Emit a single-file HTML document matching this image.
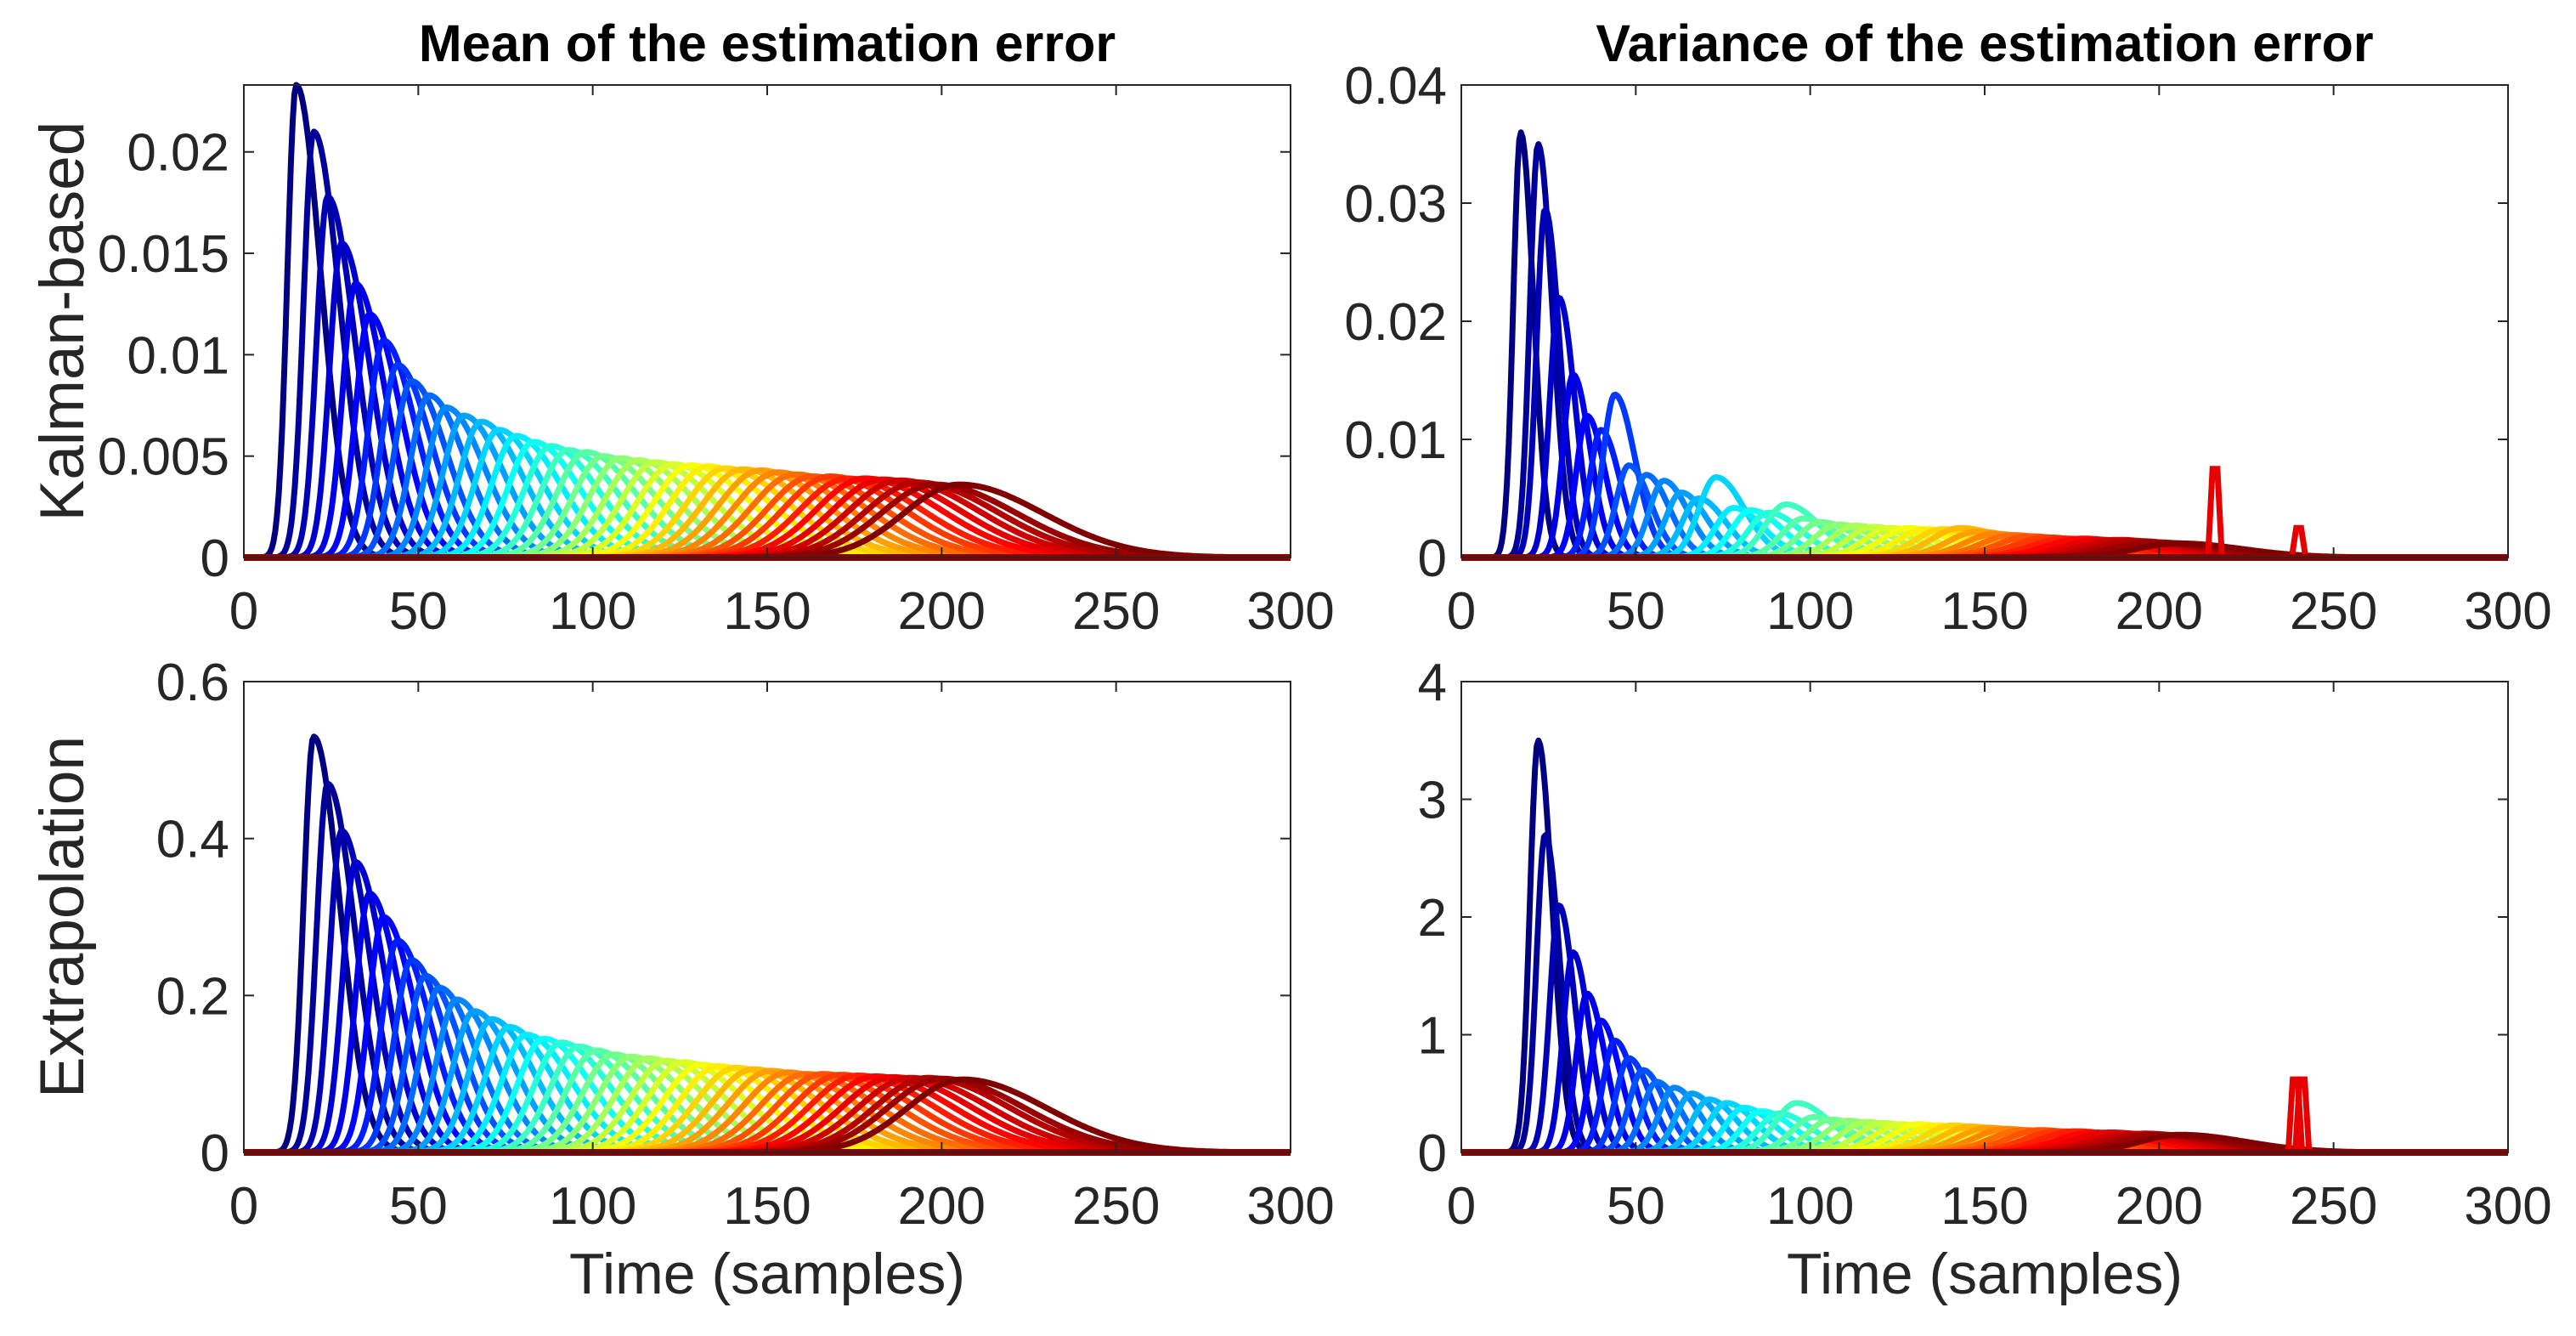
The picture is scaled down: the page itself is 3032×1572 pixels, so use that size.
<!DOCTYPE html>
<html><head><meta charset="utf-8"><style>
html,body{margin:0;padding:0;background:#fff;}
svg{display:block;}
</style></head><body>
<svg id="fig" xmlns="http://www.w3.org/2000/svg" width="3032" height="1572" viewBox="0 0 3032 1572" font-family="'Liberation Sans', sans-serif">
<rect width="3032" height="1572" fill="#fff"/>
</svg>
<script>
// ---- data ----
const xTicks = [0,50,100,150,200,250,300];
const meanKalmanTicks = [0,0.005,0.01,0.015,0.02];
const meanKalmanTickLabels = ["0","0.005","0.01","0.015","0.02"];
const varKalmanTicks = [0,0.01,0.02,0.03,0.04];
const varKalmanTickLabels = ["0","0.01","0.02","0.03","0.04"];
const meanExtrapTicks = [0,0.2,0.4,0.6];
const meanExtrapTickLabels = ["0","0.2","0.4","0.6"];
const varExtrapTicks = [0,1,2,3,4];
const varExtrapTickLabels = ["0","1","2","3","4"];

const peakTimesTop = [15,20,24,28,32,36,40,44,48,53,58,63,68,73,78,83,88,93,98,103,108,113,118,123,128,133,138,143,148,153,158,163,168,173,178,183,188,193,198,205];
const peakTimesBottom = [20,24,28,32,36,40,44,48,52,56,61,66,71,76,81,86,91,96,101,106,111,116,121,126,131,136,141,146,151,156,161,166,171,176,181,186,191,196,200,206];
const meanKalmanPeaks = [0.0233,0.021,0.0178,0.0155,0.0135,0.012,0.0107,0.0095,0.0087,0.008,0.0074,0.007,0.0067,0.0063,0.006,0.0057,0.0055,0.0053,0.0052,0.005,0.0049,0.0048,0.0047,0.0046,0.00455,0.0045,0.0044,0.00435,0.0043,0.0042,0.0041,0.004,0.004,0.0039,0.0039,0.00385,0.0038,0.0037,0.0036,0.0036];
const varKalmanPeaks = [0.036,0.035,0.0295,0.022,0.0155,0.012,0.0108,0.0138,0.0078,0.007,0.0065,0.0055,0.005,0.0068,0.0042,0.004,0.0038,0.0045,0.0033,0.003,0.0028,0.0027,0.0026,0.0025,0.0025,0.0024,0.0024,0.0025,0.0022,0.002,0.0019,0.0018,0.0017,0.0016,0.0016,0.0015,0.0015,0.0014,0.0013,0.0012];
const meanExtrapPeaks = [0.53,0.47,0.41,0.37,0.33,0.30,0.27,0.245,0.225,0.21,0.195,0.18,0.17,0.16,0.15,0.145,0.14,0.135,0.13,0.125,0.122,0.12,0.117,0.115,0.112,0.11,0.108,0.106,0.104,0.102,0.1,0.1,0.099,0.098,0.097,0.096,0.095,0.095,0.094,0.093];
const varExtrapPeaks = [3.5,2.7,2.1,1.7,1.35,1.12,0.95,0.8,0.7,0.6,0.55,0.5,0.45,0.42,0.38,0.35,0.33,0.42,0.3,0.28,0.27,0.26,0.25,0.24,0.24,0.23,0.23,0.22,0.21,0.2,0.19,0.19,0.18,0.18,0.17,0.17,0.16,0.16,0.15,0.15];
const varKalmanSpikeTimes = [216,240];
const varKalmanSpikeValues = [0.0075,0.0025];
const varExtrapSpikeTimes = [239,241];
const varExtrapSpikeValues = [0.62,0.62];

const NS = "http://www.w3.org/2000/svg";
const svg = document.getElementById('fig');
function mk(tag, attrs, parent){ const e=document.createElementNS(NS,tag); for(const k in attrs) e.setAttribute(k,attrs[k]); (parent||svg).appendChild(e); return e; }
function jet(v){
  const c=x=>Math.max(0,Math.min(1,x));
  const r=c(1.5-Math.abs(4*v-3)), g=c(1.5-Math.abs(4*v-2)), b=c(1.5-Math.abs(4*v-1));
  return `rgb(${Math.round(r*255)},${Math.round(g*255)},${Math.round(b*255)})`;
}

function panel(o){
  const {x0,x1,y0,y1,ymax,yTicks,yLabels,peakT,peaks,narrow,spikeT,spikeV,title,ylabel,xlabel,name}=o;
  const g=mk('g',{});
  
  
  const sx=t=>x0+(t/300)*(x1-x0);
  const sy=v=>y1-(v/ymax)*(y1-y0);
  const clip=mk('clipPath',{id:name+'-clip'},g);
  mk('rect',{x:x0,y:y0-6,width:x1-x0,height:y1-y0+12},clip);
  const plot=mk('g',{'clip-path':`url(#${name}-clip)`},g);
  
  
  const N=peakT.length;
  for(let i=0;i<N;i++){
    const p=peakT[i], A=peaks[i];
    const sL = narrow ? 2+0.05*(p-15) : 2.5+0.07*(p-15);
    const sR = narrow ? 3.5+0.08*(p-15) : 7+0.09*(p-15);
    const a=Math.max(0,p-4*sL), b=Math.min(300,p+4*sR);
    let pts=[];
    for(let t=a;t<=b;t+=0.5){
      const s = t<p? sL : sR;
      const v = A*Math.exp(-0.5*((t-p)/s)**2);
      pts.push(sx(t).toFixed(1)+','+sy(v).toFixed(1));
    }
    const pl=mk('polyline',{points:pts.join(' '),fill:'none',stroke:jet(i/(N-1)),'stroke-width':7,'stroke-linejoin':'round'},plot);
    
    
  }
  for(let j=0;j<spikeT.length;j++){
    const t=spikeT[j], v=spikeV[j];
    const pts=[[t-2,0],[t-0.7,v],[t+0.7,v],[t+2,0]].map(q=>sx(q[0]).toFixed(1)+','+sy(q[1]).toFixed(1)).join(' ');
    const sp=mk('polyline',{points:pts,fill:'none',stroke:'rgb(230,0,0)','stroke-width':7},plot);
    
    
  }
  const base=mk('line',{x1:sx(0),x2:sx(300),y1:sy(0),y2:sy(0),stroke:'rgb(140,0,0)','stroke-width':8},plot);
  
  
  const box=mk('rect',{x:x0,y:y0,width:x1-x0,height:y1-y0,fill:'none',stroke:'#262626','stroke-width':2},g);
  
  
  xTicks.forEach(t=>{
    const X=sx(t);
    mk('line',{x1:X,x2:X,y1:y1,y2:y1-12,stroke:'#262626','stroke-width':2},g);
    mk('line',{x1:X,x2:X,y1:y0,y2:y0+12,stroke:'#262626','stroke-width':2},g);
    const tx=mk('text',{x:X,y:y1+84,'font-size':62,'text-anchor':'middle',fill:'#262626'},g);
    tx.textContent=String(t);
    
    
  });
  yTicks.forEach((v,k)=>{
    const Y=sy(v);
    mk('line',{x1:x0,x2:x0+12,y1:Y,y2:Y,stroke:'#262626','stroke-width':2},g);
    mk('line',{x1:x1,x2:x1-12,y1:Y,y2:Y,stroke:'#262626','stroke-width':2},g);
    const tx=mk('text',{x:x0-17,y:Y+22,'font-size':62,'text-anchor':'end',fill:'#262626'},g);
    tx.textContent=yLabels[k];
    
    
  });
  const cx=(x0+x1)/2;
  if(title){
    const t=mk('text',{x:cx,y:y0-28,'font-size':61,'font-weight':'bold','text-anchor':'middle',fill:'#000'},g);
    t.textContent=title;
    
    
  }
  if(ylabel){
    const cy=(y0+y1)/2;
    const t=mk('text',{x:0,y:0,'font-size':73,'text-anchor':'middle',fill:'#262626',transform:`translate(98,${cy}) rotate(-90)`},g);
    t.textContent=ylabel;
    
    
  }
  if(xlabel){
    const t=mk('text',{x:cx,y:y1+166,'font-size':68,'text-anchor':'middle',fill:'#262626'},g);
    t.textContent=xlabel;
    
    
  }
}
panel({name:'mean-kalman-panel',x0:287,x1:1519,y0:100,y1:656,ymax:0.0233,yTicks:meanKalmanTicks,yLabels:meanKalmanTickLabels,peakT:peakTimesTop,peaks:meanKalmanPeaks,narrow:false,spikeT:[],spikeV:[],title:'Mean of the estimation error',ylabel:'Kalman-based'});
panel({name:'variance-kalman-panel',x0:1720,x1:2952,y0:100,y1:656,ymax:0.04,yTicks:varKalmanTicks,yLabels:varKalmanTickLabels,peakT:peakTimesTop.map((t,i)=>i<2?t+2:t),peaks:varKalmanPeaks,narrow:true,spikeT:varKalmanSpikeTimes,spikeV:varKalmanSpikeValues,title:'Variance of the estimation error'});
panel({name:'mean-extrapolation-panel',x0:287,x1:1519,y0:802,y1:1356,ymax:0.6,yTicks:meanExtrapTicks,yLabels:meanExtrapTickLabels,peakT:peakTimesBottom,peaks:meanExtrapPeaks,narrow:false,spikeT:[],spikeV:[],ylabel:'Extrapolation',xlabel:'Time (samples)'});
panel({name:'variance-extrapolation-panel',x0:1720,x1:2952,y0:802,y1:1356,ymax:4,yTicks:varExtrapTicks,yLabels:varExtrapTickLabels,peakT:peakTimesBottom.map((t,i)=>i<1?t+2:t),peaks:varExtrapPeaks,narrow:true,spikeT:varExtrapSpikeTimes,spikeV:varExtrapSpikeValues,xlabel:'Time (samples)'});
</script>
</body></html>
